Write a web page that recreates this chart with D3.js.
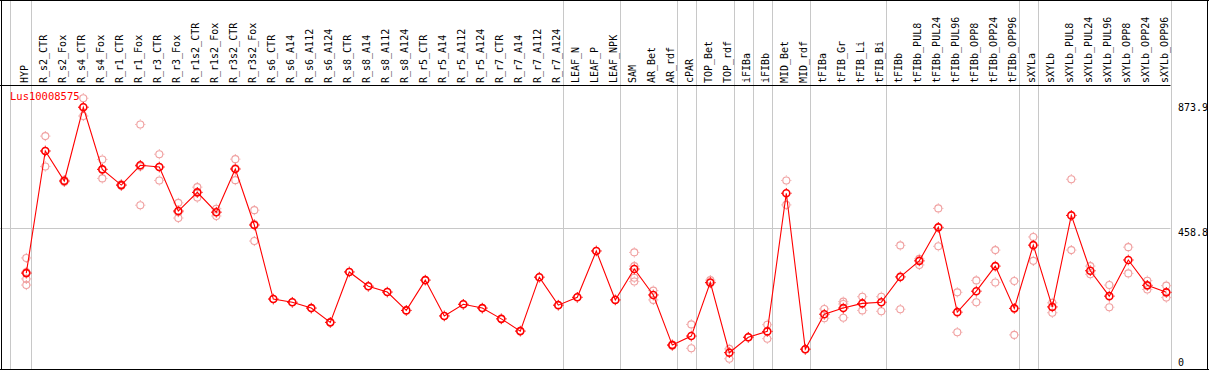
<!DOCTYPE html>
<html><head><meta charset="utf-8">
<script src="https://cdn.jsdelivr.net/npm/d3@7"></script>
<style>html,body{margin:0;padding:0;background:#fff;overflow:hidden}</style>
</head><body>
<svg id="c" width="1209" height="370"></svg>
<script>
const geneName = "Lus10008575";
const categories = ["HYP","R_s2_CTR","R_s2_Fox","R_s4_CTR","R_s4_Fox","R_r1_CTR","R_r1_Fox","R_r3_CTR","R_r3_Fox","R_r1s2_CTR","R_r1s2_Fox","R_r3s2_CTR","R_r3s2_Fox","R_s6_CTR","R_s6_A14","R_s6_A112","R_s6_A124","R_s8_CTR","R_s8_A14","R_s8_A112","R_s8_A124","R_r5_CTR","R_r5_A14","R_r5_A112","R_r5_A124","R_r7_CTR","R_r7_A14","R_r7_A112","R_r7_A124","LEAF_N","LEAF_P","LEAF_NPK","SAM","AR_Bet","AR_rdf","cPAR","TOP_Bet","TOP_rdf","iFIBa","iFIBb","MID_Bet","MID_rdf","tFIBa","tFIB_Gr","tFIB_Li","tFIB_Bi","tFIBb","tFIBb_PUL8","tFIBb_PUL24","tFIBb_PUL96","tFIBb_OPP8","tFIBb_OPP24","tFIBb_OPP96","sXYLa","sXYLb","sXYLb_PUL8","sXYLb_PUL24","sXYLb_PUL96","sXYLb_OPP8","sXYLb_OPP24","sXYLb_OPP96"];
const means = [305,724,621,874,661,607,675,669,518,582,514,662,470,216,205,185,136,309,260,240,177,281,158,198,185,148,106,291,195,222,381,213,319,230,58,89,273,32,85,105,579,44,164,185,201,205,292,347,462,171,243,329,184,401,189,503,313,226,350,263,239];
const replicates = [[357,309,285,264],[775,671,724],[624,618],[905,844,875],[695,630,661],[607,605,610],[815,538,671],[713,623,669],[546,494,514],[600,564,582],[526,501,514],[696,624,665],[521,415,473],[216],[205],[185],[136],[309],[260],[240],[177],[281],[158],[198],[185],[148],[106],[291],[195],[222],[381],[213],[376,329,289,276],[245,213],[60,56],[129,47],[281,270],[45,11],[85,84],[128,80],[623,539],[44,43],[182,150],[207,199,152],[224,177],[224,174],[400,181],[354,333],[527,397],[239,102],[280,205],[384,273],[278,93],[429,347],[203,169],[627,384],[329,301],[264,188],[394,304],[279,249],[262,221]];
const groupEnds = ["HYP","R_r7_A124","LEAF_NPK","AR_rdf","cPAR","TOP_rdf","iFIBa","iFIBb","MID_rdf","tFIB_Bi","tFIBb_OPP96","sXYLa","sXYLb_OPP96"];
const axisTicks = [0, 458.8, 873.9];

const svg = d3.select("#c");
const W = 1209, H = 370;
const font = "'DejaVu Sans Mono', monospace";
const x = d3.scalePoint().domain(categories).range([26.3, 1166.3]);
const y = d3.scaleLinear().domain([0, 873.9]).range([362, 107.3]);
const plotRight = 1170.5;

// gridline
svg.append("line").attr("x1",0).attr("x2",plotRight).attr("y1",Math.round(y(458.8))+0.5).attr("y2",Math.round(y(458.8))+0.5)
  .attr("stroke","#c8c8c8").attr("stroke-width",1);
// separators
const seps = [x(categories[0]) - 16].concat(groupEnds.map(c => x(c) + 4.4));
svg.selectAll("line.sep").data(seps).enter().append("line").attr("class","sep")
  .attr("x1",d=>Math.round(d)+0.5).attr("x2",d=>Math.round(d)+0.5).attr("y1",0).attr("y2",H)
  .attr("stroke","#c8c8c8").attr("stroke-width",1);
// borders
svg.append("line").attr("x1",0).attr("x2",W).attr("y1",0.5).attr("y2",0.5).attr("stroke","#000");
svg.append("line").attr("x1",0).attr("x2",plotRight).attr("y1",85.5).attr("y2",85.5).attr("stroke","#000");
svg.append("line").attr("x1",0).attr("x2",W).attr("y1",369.5).attr("y2",369.5).attr("stroke","#000").attr("stroke-width",1);
svg.append("line").attr("x1",1.5).attr("x2",1.5).attr("y1",0).attr("y2",H).attr("stroke","#000");
svg.append("line").attr("x1",W-1.5).attr("x2",W-1.5).attr("y1",0).attr("y2",H).attr("stroke","#000");

// header labels
svg.selectAll("text.cat").data(categories).enter().append("text").attr("class","cat")
  .attr("transform",d=>`translate(${x(d)-1},83) rotate(-90)`)
  .attr("dy","0.3em").attr("font-family",font).attr("font-size","10px").attr("fill","#000")
  .text(d=>d);

// axis labels
svg.selectAll("text.tick").data(axisTicks).enter().append("text").attr("class","tick")
  .attr("x",1178)
  .attr("y",d=> d===458.8 ? y(d)+8 : y(d)+4)
  .attr("font-family",font).attr("font-size","10px").attr("fill","#000")
  .text(d=>d===0?"0":d.toFixed(1));

// gene name
svg.append("text").attr("x",10).attr("y",100).attr("font-family",font).attr("font-size","10.5px").attr("fill","#ff0000").text(geneName);

// replicates
const repPts = [];
replicates.forEach((arr,i)=>arr.forEach(v=>repPts.push({c:categories[i],v})));
function marker(g, r, sw){
  g.append("circle").attr("r",r).attr("stroke-width",sw);
  [[0,-1],[0,1],[-1,0],[1,0]].forEach(([dx,dy])=>{
    g.append("line").attr("x1",dx*(r+sw/2)).attr("y1",dy*(r+sw/2)).attr("x2",dx*(r+sw/2+1)).attr("y2",dy*(r+sw/2+1)).attr("stroke-width",1);
  });
}
const rg = svg.append("g").attr("fill","none").attr("stroke","#f0a0a0");
repPts.forEach(p=>{ const g = rg.append("g").attr("transform",`translate(${x(p.c)},${y(p.v)})`); marker(g,3.5,1.1); });

// line
const line = d3.line().x((d,i)=>x(categories[i])).y(d=>y(d));
svg.append("path").datum(means).attr("d",line).attr("fill","none").attr("stroke","#ff0000").attr("stroke-width",1.1);

// means
const mg = svg.append("g").attr("fill","none").attr("stroke","#ff0000");
means.forEach((v,i)=>{ const g = mg.append("g").attr("transform",`translate(${x(categories[i])},${y(v)})`); marker(g,3.5,1.6); });
</script>
</body></html>
